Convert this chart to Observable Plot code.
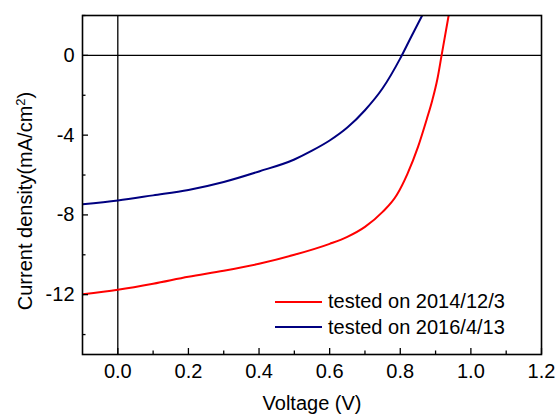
<!DOCTYPE html>
<html>
<head>
<meta charset="utf-8">
<script src="https://cdn.jsdelivr.net/npm/d3@7"></script>
<script src="https://cdn.jsdelivr.net/npm/@observablehq/plot@0.6"></script>
<style>
  html, body { margin: 0; padding: 0; background: #fff; }
  #wrap { position: relative; width: 558px; height: 414px; font-family: "Liberation Sans", Arial, sans-serif; }
  #legend { position: absolute; left: 275px; top: 289px; font-size: 20px; color: #000; }
  .row { display: flex; align-items: center; height: 25.5px; }
  .sw { width: 47px; height: 2px; margin-right: 6px; }
</style>
</head>
<body>
<div id="wrap"></div>
<script>
// Series names and colors
const seriesNames = ["tested on 2014/12/3", "tested on 2016/4/13"];
const seriesColors = ["#ff0000", "#000080"];

// Red: tested on 2014/12/3
const redV = [-0.1, 0.0, 0.1, 0.2, 0.3, 0.4, 0.5, 0.6, 0.65, 0.7, 0.75, 0.79, 0.82, 0.85, 0.875, 0.89, 0.905, 0.917, 0.937];
const redJ = [-11.98, -11.75, -11.45, -11.1, -10.8, -10.45, -10.0, -9.45, -9.1, -8.6, -7.85, -7.0, -5.95, -4.6, -3.2, -2.3, -1.2, 0.0, 2.0];

// Blue: tested on 2016/4/13
const blueV = [-0.1, 0.0, 0.1, 0.2, 0.3, 0.4, 0.5, 0.55, 0.6, 0.65, 0.7, 0.75, 0.8, 0.83, 0.862];
const blueJ = [-7.47, -7.28, -7.02, -6.75, -6.35, -5.82, -5.22, -4.78, -4.27, -3.62, -2.75, -1.65, -0.15, 0.9, 2.0];

// Axis ticks
const xMajor = [0.0, 0.2, 0.4, 0.6, 0.8, 1.0, 1.2];
const xMinor = [0.1, 0.3, 0.5, 0.7, 0.9, 1.1];
const yMajor = [0, -4, -8, -12];
const yMinor = [2, -2, -6, -10, -14];
const xTitle = "Voltage (V)";
const yTitle = "Current density(mA/cm2)";

const data = [
  ...redV.map((v, i) => ({V: v, J: redJ[i], s: seriesNames[0]})),
  ...blueV.map((v, i) => ({V: v, J: blueJ[i], s: seriesNames[1]}))
];

const font = "Liberation Sans, Arial, sans-serif";

const chart = Plot.plot({
  width: 558,
  height: 414,
  marginLeft: 82,
  marginRight: 17,
  marginTop: 15,
  marginBottom: 60,
  style: {fontFamily: font, fontSize: "20px", color: "#000", background: "#fff"},
  x: {domain: [-0.1, 1.2]},
  y: {domain: [-15, 2]},
  color: {domain: seriesNames, range: seriesColors},
  marks: [
    Plot.ruleX([0], {stroke: "#000", strokeWidth: 1.3}),
    Plot.ruleY([0], {stroke: "#000", strokeWidth: 1.3}),
    Plot.line(data, {x: "V", y: "J", z: "s", stroke: "s", strokeWidth: 2, curve: "monotone-x", clip: true}),
    Plot.axisX({ticks: xMajor, tickSize: -6, tickPadding: 15, tickFormat: d3.format(".1f"), fontSize: 20, label: null, strokeWidth: 1.3}),
    Plot.axisX({ticks: xMinor, tickSize: -3.5, tickFormat: () => "", label: null, strokeWidth: 1.3}),
    Plot.axisY({ticks: yMajor, tickSize: -6, tickPadding: 14, tickFormat: d => d3.format("d")(d).replace("−", "-"), fontSize: 20, label: null, strokeWidth: 1.3}),
    Plot.axisY({ticks: yMinor, tickSize: -3.5, tickFormat: () => "", label: null, strokeWidth: 1.3}),
    Plot.frame({stroke: "#000", strokeWidth: 1.6}),
    Plot.text([xTitle], {text: d => d, frameAnchor: "bottom", dy: 49, fontSize: 20, lineAnchor: "middle", textAnchor: "middle"}),
    Plot.text([yTitle], {text: d => d, frameAnchor: "left", rotate: -90, dx: -57, dy: 16, fontSize: 20, lineAnchor: "middle", textAnchor: "middle"})
  ]
});

document.getElementById("wrap").appendChild(chart);

// superscript 2 in y title
chart.querySelectorAll("text").forEach(t => {
  if (t.textContent === yTitle) {
    t.textContent = "";
    const ns = "http://www.w3.org/2000/svg";
    const a = document.createElementNS(ns, "tspan"); a.textContent = "Current density(mA/cm";
    const b = document.createElementNS(ns, "tspan"); b.textContent = "2"; b.setAttribute("dy", "-7"); b.setAttribute("font-size", "13");
    const c = document.createElementNS(ns, "tspan"); c.textContent = ")"; c.setAttribute("dy", "7");
    t.append(a, b, c);
  }
});

// legend inside plot
const legend = document.createElement("div");
legend.id = "legend";
seriesNames.forEach((n, i) => {
  const row = document.createElement("div");
  row.className = "row";
  const sw = document.createElement("div");
  sw.className = "sw";
  sw.style.background = seriesColors[i];
  const tx = document.createElement("span");
  tx.textContent = n;
  row.append(sw, tx);
  legend.appendChild(row);
});
document.getElementById("wrap").appendChild(legend);
</script>
</body>
</html>
